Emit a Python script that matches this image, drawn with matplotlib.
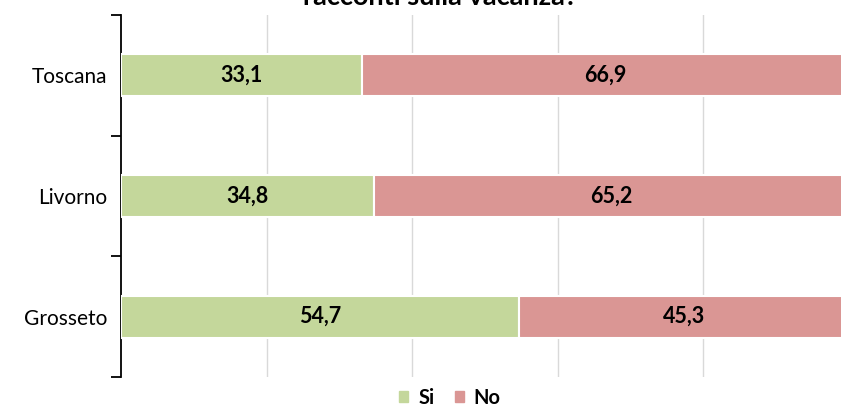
import matplotlib
matplotlib.use("Agg")
import matplotlib.pyplot as plt
from matplotlib.patches import Patch

categories = ["Toscana", "Livorno", "Grosseto"]
si = [33.1, 34.8, 54.7]
no = [66.9, 65.2, 45.3]
series_names = ["Si", "No"]
title = "racconti sulla vacanza?"

plt.rcParams['font.family'] = ['Lato', 'DejaVu Sans']

fig = plt.figure(figsize=(8.41, 4.09), dpi=100)
ax = fig.add_axes([121/841, 1-377/409, 728/841, 362/409])

green = "#C4D79B"
red = "#DA9694"
y = list(range(len(categories)))
h = 0.35
ax.barh(y, si, height=h, color=green, edgecolor="white", linewidth=1.5, zorder=3)
ax.barh(y, no, left=si, height=h, color=red, edgecolor="white", linewidth=1.5, zorder=3)

for i in range(len(categories)):
    ax.text(si[i]/2, y[i], f"{si[i]:.1f}".replace(".", ","), ha="center", va="center",
            fontsize=15.5, fontweight="bold", zorder=4)
    ax.text(si[i] + no[i]/2, y[i], f"{no[i]:.1f}".replace(".", ","), ha="center", va="center",
            fontsize=15.5, fontweight="bold", zorder=4)

ax.set_xlim(0, 100)
ax.set_ylim(2.5, -0.5)
ax.set_xticks([20, 40, 60, 80, 100])
ax.xaxis.grid(True, color="#D9D9D9", linewidth=1, zorder=0)
ax.tick_params(axis="x", length=0, labelbottom=False)

ax.set_yticks([-0.5, 0.5, 1.5, 2.5])
ax.set_yticklabels([])
ax.tick_params(axis="y", which="major", length=7, width=1.3, color="black", direction="out")
ax.set_yticks(y, minor=True)
ax.set_yticklabels(categories, minor=True, fontsize=15)
ax.tick_params(axis="y", which="minor", length=0, pad=10)

for s in ["top", "right", "bottom"]:
    ax.spines[s].set_visible(False)
ax.spines["left"].set_linewidth(1.3)

fig.text(440/841, 1-5/409, title, ha="center", va="baseline", fontsize=19.5, fontweight="bold")

handles = [Patch(color=green), Patch(color=red)]
leg = fig.legend(handles, series_names, loc="center", bbox_to_anchor=(450/841, 1-398/409),
                 ncol=2, frameon=False, handlelength=0.45, handleheight=0.45,
                 handletextpad=0.5, columnspacing=1.0, borderpad=0.2,
                 prop={"weight": "bold", "size": 14.5})

fig.savefig("out.png", dpi=100)
